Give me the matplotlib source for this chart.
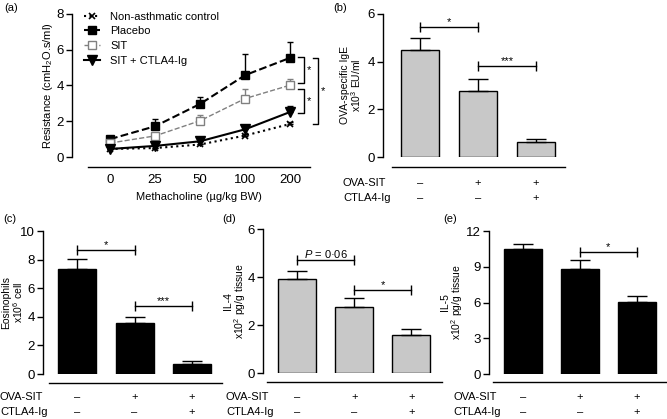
#!/usr/bin/env python
import numpy as np
import matplotlib
matplotlib.use('Agg')
import matplotlib.pyplot as plt
from matplotlib.transforms import blended_transform_factory

plt.rcParams['font.family'] = 'Liberation Sans'
plt.rcParams['mathtext.fontset'] = 'custom'
plt.rcParams['mathtext.rm'] = 'Liberation Sans'
plt.rcParams['mathtext.it'] = 'Liberation Sans:italic'

#(a) airway resistance vs methacholine dose
doses = ['0', '25', '50', '100', '200']
control = [0.45, 0.50, 0.70, 1.20, 1.85]
control_err = [0.03, 0.03, 0.04, 0.08, 0.10]
placebo = [1.00, 1.72, 2.97, 4.58, 5.55]
placebo_err = [0.10, 0.38, 0.37, 1.18, 0.90]
sit = [0.78, 1.18, 2.03, 3.27, 4.02]
sit_err = [0.05, 0.08, 0.33, 0.55, 0.35]
ctla = [0.45, 0.62, 0.88, 1.55, 2.52]
ctla_err = [0.04, 0.05, 0.08, 0.10, 0.32]

#(b)-(e) bar panels
ova_sit = ['\u2013', '+', '+']
ctla4_ig = ['\u2013', '\u2013', '+']
ige = [4.49, 2.79, 0.61]
ige_err = [0.50, 0.50, 0.16]
eos = [7.31, 3.60, 0.70]
eos_err = [0.76, 0.41, 0.23]
il4 = [3.90, 2.77, 1.59]
il4_err = [0.37, 0.35, 0.25]
il5 = [10.45, 8.77, 6.07]
il5_err = [0.50, 0.78, 0.48]

W, H = 667., 419.
fig = plt.figure(figsize=(W/100., H/100.), dpi=100)
labfs = 8
tickfs = 9.5


def px_axes(x0, x1, y0, y1):
	return fig.add_axes([x0/W, 1-y1/H, (x1-x0)/W, (y1-y0)/H])


def style_axes(ax, left_out, bottom_out):
	for s in ['top', 'right']:
		ax.spines[s].set_visible(False)
	ax.spines['left'].set_position(('outward', left_out*0.72))
	ax.spines['bottom'].set_position(('outward', bottom_out*0.72))
	for s in ['left', 'bottom']:
		ax.spines[s].set_linewidth(1.0)
	ax.tick_params(axis='y', direction='out', length=4, width=1, labelsize=tickfs, pad=2)
	ax.tick_params(axis='x', length=0)


def bracket(ax, x1, x2, y, text, fs=8):
	ax.plot([x1, x2], [y, y], color='black', lw=1, marker='|', markersize=7, markeredgewidth=1)
	ax.text((x1+x2)/2., y, text, ha='center', va='bottom', fontsize=fs)


def bar_panel(ax, vals, errs, color, ymax, ystep, ylabel, xlim, labx):
	x = np.arange(3)
	ax.bar(x, vals, width=0.66, color=color, edgecolor='black', linewidth=1, zorder=2)
	ax.errorbar(x, vals, yerr=[np.zeros(3), errs], fmt='none', ecolor='black',
		elinewidth=1, capsize=7, capthick=1, zorder=3)
	ax.set_xlim(xlim)
	ax.set_ylim(0, ymax)
	ax.set_yticks(np.arange(0, ymax+0.01, ystep))
	ax.set_xticks([])
	ax.set_ylabel(ylabel, fontsize=7.5, linespacing=0.95)
	ax.yaxis.set_label_coords(labx, 0.5)


def row_labels(ax, x_px, y1_px, y2_px):
	fig.text(x_px/W, 1-y1_px/H, 'OVA-SIT', fontsize=labfs, va='center', ha='left')
	fig.text(x_px/W, 1-y2_px/H, 'CTLA4-Ig', fontsize=labfs, va='center', ha='left')
	tr = blended_transform_factory(ax.transData, fig.transFigure)
	for i in range(3):
		ax.text(i, 1-y1_px/H, ova_sit[i], transform=tr, fontsize=labfs, ha='center', va='center')
		ax.text(i, 1-y2_px/H, ctla4_ig[i], transform=tr, fontsize=labfs, ha='center', va='center')


#---------------- (a)
ax = px_axes(88, 310, 14, 157)
style_axes(ax, 16, 10)
x = np.arange(5)
z = np.zeros(5)
ax.errorbar(x, control, yerr=[z, control_err], fmt='none', ecolor='black', elinewidth=1, capsize=2.5, capthick=1)
ax.errorbar(x, placebo, yerr=[z, placebo_err], fmt='none', ecolor='black', elinewidth=1, capsize=2.5, capthick=1)
ax.errorbar(x, sit, yerr=[z, sit_err], fmt='none', ecolor='#808080', elinewidth=1, capsize=2.5, capthick=1)
ax.errorbar(x, ctla, yerr=[z, ctla_err], fmt='none', ecolor='black', elinewidth=1, capsize=2.5, capthick=1)
ax.plot(x, control, linestyle=':', color='black', linewidth=1.5, marker='x', markersize=4.5,
	markeredgewidth=1.2, label='Non-asthmatic control', zorder=4)
ax.plot(x, placebo, linestyle='--', color='black', linewidth=1.5, marker='s', markersize=6,
	label='Placebo', zorder=4)
ax.plot(x, sit, linestyle='--', color='#808080', linewidth=1, marker='s', markersize=6,
	markerfacecolor='white', markeredgecolor='#808080', markeredgewidth=1, label='SIT', zorder=4)
ax.plot(x, ctla, linestyle='-', color='black', linewidth=1.5, marker='v', markersize=6.5,
	label='SIT + CTLA4-Ig', zorder=4)
ax.set_xlim(-0.49, 4.44)
ax.set_ylim(0, 8)
ax.set_yticks([0, 2, 4, 6, 8])
ax.set_xticks(x)
ax.set_xticklabels(doses)
ax.tick_params(axis='x', labelsize=tickfs, pad=5)
ax.set_ylabel(r'Resistance (cmH$_2$O.s/ml)', fontsize=labfs)
ax.yaxis.set_label_coords(-0.149, 0.5)
ax.set_xlabel(u'Methacholine (\u00b5g/kg BW)', fontsize=labfs, labelpad=4)
ax.legend(loc='upper left', bbox_to_anchor=(84/W, 1-11.5/H), bbox_transform=fig.transFigure,
	frameon=False, fontsize=labfs, handlelength=1.45, handletextpad=0.9, labelspacing=0.44,
	borderpad=0, borderaxespad=0, numpoints=1)

#significance brackets on the right
def side_bracket(ax, xa, xb, y1, y2, xt):
	ax.plot([xa, xb, xb, xa], [y1, y1, y2, y2], color='black', lw=1, clip_on=False)
	ax.text(xt, (y1+y2)/2., '*', fontsize=8, ha='center', va='center', clip_on=False)

side_bracket(ax, 4.17, 4.31, 5.6, 4.15, 4.42)
side_bracket(ax, 4.17, 4.31, 3.83, 2.45, 4.42)
side_bracket(ax, 4.51, 4.62, 5.52, 1.83, 4.73)

#---------------- (b)
ax = px_axes(392, 565, 14, 157)
style_axes(ax, 9, 10)
bar_panel(ax, ige, ige_err, '#c8c8c8', 6, 2, 'OVA-specific IgE\nx10$^3$ EU/ml', (-0.483, 2.5), -0.168)
bracket(ax, 0, 1, 5.47, '*')
bracket(ax, 1, 2, 3.8, '***')
row_labels(ax, 343, 183, 198)

#---------------- (c)
ax = px_axes(49, 222, 231, 374)
style_axes(ax, 6, 9)
bar_panel(ax, eos, eos_err, 'black', 10, 2, 'Eosinophils\nx10$^6$ cell', (-0.487, 2.52), -0.14)
bracket(ax, 0, 1, 8.7, '*')
bracket(ax, 1, 2, 4.78, '***')
row_labels(ax, 0, 397, 412)

#---------------- (d)
ax = px_axes(267, 442, 229, 373)
style_axes(ax, 4, 9)
bar_panel(ax, il4, il4_err, '#c8c8c8', 6, 2, 'IL-4\nx10$^2$ pg/g tissue', (-0.53, 2.54), -0.109)
bracket(ax, 0, 1, 4.71, '$P$ = 0\u00b706', fs=labfs)
bracket(ax, 1, 2, 3.46, '*')
row_labels(ax, 226, 397, 412)

#---------------- (e)
ax = px_axes(493, 667, 231, 374)
style_axes(ax, 4, 8)
bar_panel(ax, il5, il5_err, 'black', 12, 3, 'IL-5\nx10$^2$ pg/g tissue', (-0.53, 2.53), -0.161)
bracket(ax, 1, 2, 10.25, '*')
row_labels(ax, 453, 397, 412)

#panel letters
for lab, px, py in [('(a)', 4, 8), ('(b)', 333, 8), ('(c)', 3, 219), ('(d)', 222, 219), ('(e)', 443, 219)]:
	fig.text(px/W, 1-py/H, lab, fontsize=8, va='center', ha='left')

plt.savefig('out.png', dpi=100)
